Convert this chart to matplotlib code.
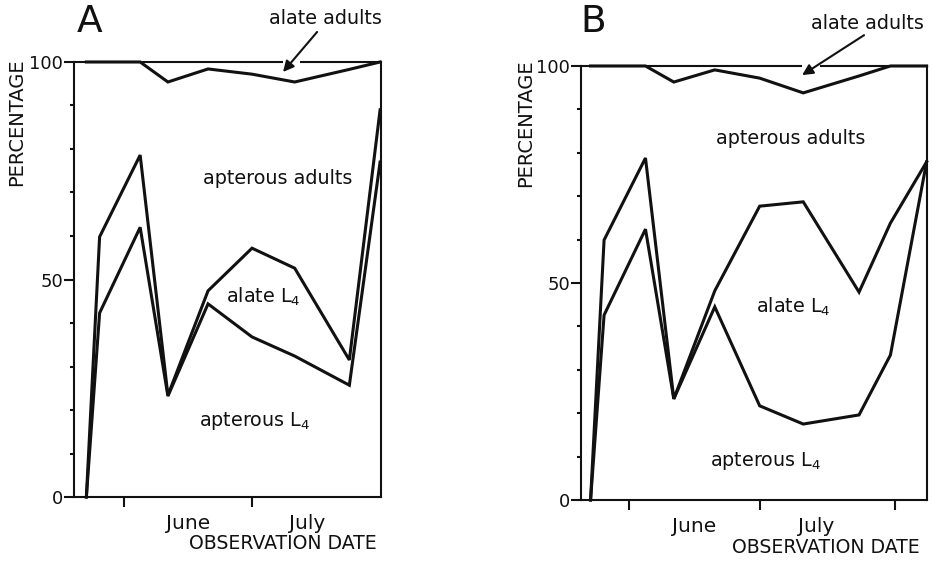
import numpy as np
import matplotlib
matplotlib.use('Agg')
import matplotlib.pyplot as plt

# observation dates as day numbers counted from 1 May (June 1 = 31, July 1 = 61, Aug 1 = 92)
dates = [22.2, 25.3, 34.8, 41.3, 50.7, 61.0, 71.0, 83.8, 91.0, 99.3]

# panel A: cumulative percentages (upper boundary of each class)
a_apterous_l4 = [0, 42.3, 62.0, 23.2, 44.4, 36.8, 32.4, 25.7, 77.0]
a_alate_l4 = [0, 59.8, 78.6, 23.4, 47.4, 57.2, 52.6, 31.5, 89.0]
a_apterous_adults = [100, 100, 100, 95.4, 98.4, 97.2, 95.4, 98.3, 100]

# panel B
b_apterous_l4 = [0, 42.6, 62.4, 23.3, 44.5, 21.7, 17.5, 19.6, 33.4, 77.9]
b_alate_l4 = [0, 59.9, 78.8, 23.3, 48.2, 67.7, 68.7, 47.9, 63.8, 77.9]
b_apterous_adults = [100, 100, 100, 96.3, 99.1, 97.2, 93.8, 97.7, 100, 100]

month_starts = [31, 61, 92]
month_labels = ['June', 'July']
month_label_pos = [46, 74]

ink = '#111111'
plt.rcParams['font.family'] = 'DejaVu Sans'

fig = plt.figure(figsize=(9.33, 5.63), dpi=100)
axA = fig.add_axes([0.0793, 0.1172, 0.329, 0.7727])
axB = fig.add_axes([0.6227, 0.1119, 0.3709, 0.7709])

panels = [
    (axA, 'A', (19.3, 91.2), [a_apterous_l4, a_alate_l4, a_apterous_adults],
     {'letter': (0.052, 1.092), 'ylab': (-0.186, 0.862), 'xlab': (0.985, -0.108),
      'alate_txt': (0.818, 1.101), 'arrow_tail': (0.792, 1.069), 'arrow_head': (0.681, 0.977),
      'gap': (0.681, 0.736),
      'apt_ad': (0.664, 0.733), 'al_l4': (0.616, 0.460), 'apt_l4': (0.590, 0.175)}),
    (axB, 'B', (20.0, 99.4), [b_apterous_l4, b_alate_l4, b_apterous_adults],
     {'letter': (0.035, 1.101), 'ylab': (-0.159, 0.869), 'xlab': (0.98, -0.11),
      'alate_txt': (0.829, 1.099), 'arrow_tail': (0.818, 1.071), 'arrow_head': (0.639, 0.979),
      'gap': (0.639, 0.691),
      'apt_ad': (0.607, 0.832), 'al_l4': (0.613, 0.445), 'apt_l4': (0.535, 0.090)}),
]

for ax, letter, xlim, series, pos in panels:
    for s in series:
        ax.plot(dates[:len(s)], s, color=ink, lw=2.2, solid_joinstyle='miter', clip_on=False)
    ax.set_xlim(*xlim)
    ax.set_ylim(0, 100)
    for sp in ax.spines.values():
        sp.set_color(ink)
        sp.set_linewidth(1.5)

    ax.set_yticks([0, 50, 100])
    ax.set_yticks(np.arange(10, 100, 10), minor=True)
    ax.tick_params(axis='y', which='major', direction='out', length=7, width=1.5,
                   color=ink, labelsize=13, pad=1, labelcolor=ink)
    ax.tick_params(axis='y', which='minor', direction='out', length=3, width=1.5, color=ink)

    ax.set_xticks([m for m in month_starts if m < xlim[1]])
    ax.set_xticklabels([])
    ax.set_xticks(month_label_pos, month_labels, minor=True)
    ax.tick_params(axis='x', which='major', direction='out', length=7, width=1.5, color=ink)
    ax.tick_params(axis='x', which='minor', length=0, labelsize=14.5, pad=12, labelcolor=ink)

    ax.text(*pos['letter'], letter, transform=ax.transAxes, fontsize=27,
            ha='center', va='center', color=ink)
    ax.text(*pos['ylab'], 'PERCENTAGE', transform=ax.transAxes, fontsize=14,
            rotation=90, ha='center', va='center', color=ink)
    ax.text(*pos['xlab'], 'OBSERVATION DATE', transform=ax.transAxes, fontsize=13.6,
            ha='right', va='center', color=ink)

    # small break in the 100 % line where the arrow crosses it
    ax.plot(pos['gap'], [1, 1], color='white', lw=4, transform=ax.transAxes,
            clip_on=False, zorder=4, solid_capstyle='butt')
    ax.annotate('', xy=pos['arrow_head'], xycoords='axes fraction',
                xytext=pos['arrow_tail'], textcoords='axes fraction',
                arrowprops=dict(arrowstyle='-|>', color=ink, lw=1.5,
                                mutation_scale=16, shrinkA=0, shrinkB=0), zorder=5)
    ax.text(*pos['alate_txt'], 'alate adults', transform=ax.transAxes, fontsize=13.8,
            ha='center', va='center', color=ink)
    ax.text(*pos['apt_ad'], 'apterous adults', transform=ax.transAxes, fontsize=13.8,
            ha='center', va='center', color=ink)
    ax.text(*pos['al_l4'], 'alate L$_4$', transform=ax.transAxes, fontsize=13.8,
            ha='center', va='center', color=ink)
    ax.text(*pos['apt_l4'], 'apterous L$_4$', transform=ax.transAxes, fontsize=13.8,
            ha='center', va='center', color=ink)

plt.savefig('out.png', dpi=100)
